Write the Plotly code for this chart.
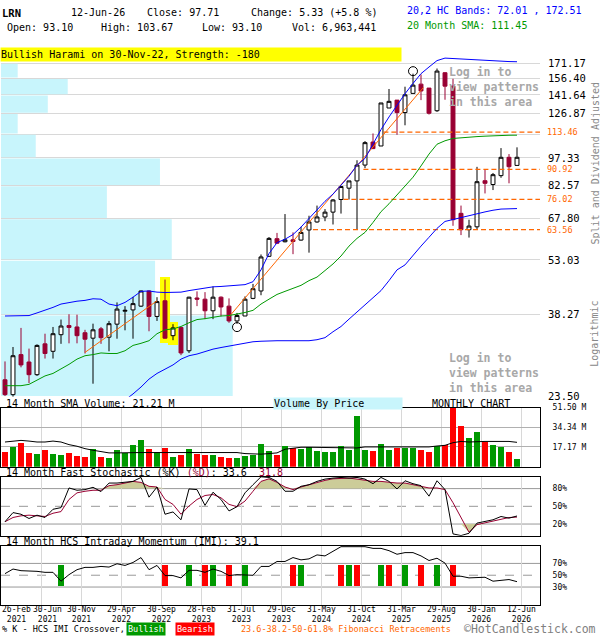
import math

import plotly.graph_objects as go

FONT = "DejaVu Sans Mono"
W, H = 600, 640
MAROON = "#990033"
UP_GREEN = "#009900"
DN_RED = "#ff0000"
ORANGE = "#ff6600"
CYAN = "#c8f5fc"
GRID = "#d8d8d8"

# monthly bars, Feb 2021 .. Jun 2026 (month index 0..64)
opens = [26.0, 23.8, 30.2, 28.9, 26.8, 32.2, 30.8, 34.0, 35.9, 35.6,
         34.4, 33.3, 35.2, 33.5, 36.2, 39.1, 39.4, 40.3, 44.1, 37.9,
         41.6, 33.8, 35.5, 30.9, 42.3, 42.0, 39.2, 42.5, 40.3, 36.9,
         38.0, 42.2, 44.1, 54.2, 60.2, 59.1, 59.8, 59.7, 63.4, 66.5,
         68.5, 70.5, 76.0, 81.3, 84.9, 93.3, 107.0, 104.5, 131.0, 137.3,
         127.5, 142.9, 151.0, 147.5, 128.9, 161.6, 149.2, 70.0, 63.5, 64.6,
         85.0, 83.1, 87.6, 97.7, 93.10]
highs = [29.0, 31.6, 35.4, 31.3, 32.1, 34.2, 35.6, 37.2, 38.4, 38.3,
         35.0, 36.3, 35.6, 36.9, 41.2, 40.3, 42.6, 44.2, 44.2, 42.5,
         47.2, 36.2, 35.6, 42.6, 44.0, 43.8, 45.3, 42.7, 42.2, 38.7,
         42.7, 46.0, 54.8, 60.8, 62.3, 69.7, 62.5, 64.6, 69.0, 73.3,
         71.8, 76.2, 82.1, 84.9, 96.0, 107.6, 112.6, 135.0, 146.7, 137.3,
         148.7, 160.7, 159.9, 147.5, 165.7, 162.0, 155.9, 73.3, 67.4, 92.3,
         90.6, 89.0, 103.2, 99.6, 103.67]
lows = [23.6, 23.5, 28.0, 25.5, 26.6, 29.5, 29.5, 32.2, 32.3, 32.3,
        30.4, 25.4, 32.2, 30.8, 33.2, 34.9, 33.2, 40.1, 34.7, 36.9,
        33.2, 32.9, 30.1, 30.5, 40.3, 37.3, 37.3, 37.9, 36.5, 36.3,
        38.0, 42.0, 43.0, 54.0, 58.3, 58.9, 54.9, 59.5, 55.4, 66.2,
        66.8, 65.5, 69.9, 76.0, 63.6, 91.6, 102.6, 104.5, 131.0, 111.7,
        118.2, 142.9, 137.3, 126.0, 128.0, 137.6, 65.0, 61.5, 60.6, 63.5,
        78.8, 80.4, 86.5, 83.7, 93.10]
closes = [23.8, 30.0, 28.4, 26.8, 31.9, 30.4, 34.2, 35.8, 35.5, 33.8,
          33.1, 35.0, 33.4, 36.3, 39.6, 39.3, 40.9, 44.1, 37.9, 41.4,
          33.3, 35.4, 30.5, 42.5, 42.0, 39.2, 42.5, 40.1, 36.9, 38.1,
          42.0, 44.7, 54.0, 60.3, 58.6, 59.8, 59.2, 62.5, 66.5, 68.5,
          70.5, 75.8, 82.1, 84.9, 93.3, 106.6, 102.9, 135.0, 136.3, 127.5,
          141.7, 150.1, 145.0, 127.0, 163.2, 149.2, 67.4, 63.5, 64.9, 84.5,
          83.7, 88.1, 97.7, 92.38, 97.71]

# volume in millions and its 14 month SMA
volumes = [12.87, 17.17, 20.6, 12.0, 11.16, 14.6, 11.16, 10.3, 12.0, 9.44,
           8.58, 15.45, 8.58, 7.72, 14.6, 12.0, 18.9, 24.0, 15.45, 12.87,
           16.3, 8.58, 10.3, 15.45, 11.16, 10.3, 10.3, 8.58, 7.72, 7.72,
           9.44, 10.3, 19.7, 13.7, 10.3, 18.0, 16.3, 15.45, 17.17, 13.7,
           12.87, 12.87, 18.0, 14.6, 44.6, 14.6, 13.7, 19.7, 14.6, 16.3,
           16.3, 16.3, 14.6, 12.87, 18.0, 18.9, 53.0, 36.0, 25.7, 30.9,
           21.5, 18.9, 17.17, 12.87, 6.96]
vol_sma = [21.5, 22.3, 22.9, 22.3, 21.5, 21.5, 22.3, 21.5, 19.2, 17.8,
           15.7, 14.3, 12.9, 12.0, 12.0, 12.3, 12.3, 12.3, 12.3, 12.3,
           12.6, 12.9, 12.9, 12.9, 12.9, 12.9, 12.9, 12.9, 12.9, 12.3,
           11.4, 10.9, 10.9, 11.4, 12.0, 15.2, 16.3, 16.9, 16.9, 16.9,
           16.9, 16.9, 16.9, 16.9, 16.3, 17.2, 17.2, 17.2, 17.2, 17.2,
           17.2, 17.2, 17.2, 17.2, 18.0, 18.6, 20.9, 22.0, 21.5, 22.0,
           22.0, 22.0, 22.0, 22.0, 21.21]

# fast stochastic
stoch_k = [23.9, 39.4, 36.6, 29.4, 35.0, 31.1, 45.0, 47.8, 81.1, 77.2,
           78.3, 82.2, 75.0, 89.4, 89.4, 90.5, 92.2, 98.9, 65.5, 82.7,
           36.6, 40.5, 27.2, 79.4, 78.3, 51.6, 73.9, 61.6, 42.2, 49.4,
           72.8, 86.6, 100.0, 98.9, 92.2, 75.5, 75.5, 83.9, 86.6, 92.2,
           96.1, 97.8, 98.9, 97.8, 98.9, 96.1, 88.3, 98.9, 92.2, 79.4,
           93.3, 88.3, 85.0, 67.2, 93.3, 78.3, 3.3, 0.5, 4.4, 21.6,
           23.9, 27.2, 32.8, 30.0, 33.6]
stoch_d = [23.9, 31.1, 33.9, 35.0, 33.9, 32.8, 38.3, 41.1, 61.6, 72.8,
           75.5, 77.2, 77.2, 85.0, 86.6, 89.4, 92.2, 90.5, 83.9, 82.7,
           61.6, 53.3, 36.6, 50.5, 61.6, 68.3, 70.0, 64.4, 53.3, 49.4,
           58.9, 75.5, 92.2, 96.6, 90.5, 82.7, 78.3, 82.7, 86.6, 89.4,
           93.9, 96.6, 97.8, 97.8, 96.1, 93.9, 92.2, 92.2, 90.5, 89.4,
           89.4, 86.6, 82.7, 81.1, 81.1, 78.3, 56.1, 30.0, 6.1, 19.0,
           22.0, 25.0, 28.5, 31.0, 31.8]

# intraday momentum
imi = [52.7, 60.5, 57.7, 57.7, 56.6, 54.9, 54.9, 39.9, 51.0, 59.4,
       63.3, 63.3, 64.9, 63.8, 69.4, 66.6, 71.6, 79.9, 59.4, 66.6,
       49.4, 49.4, 45.5, 58.3, 58.3, 54.9, 60.5, 56.6, 49.4, 51.0,
       51.0, 49.9, 64.9, 64.9, 73.3, 73.3, 79.9, 76.0, 77.7, 84.4,
       82.7, 89.9, 98.3, 98.3, 98.3, 98.3, 95.5, 95.5, 91.6, 85.5,
       88.3, 88.3, 82.7, 74.9, 78.8, 70.5, 48.3, 48.3, 45.5, 46.6,
       46.6, 39.9, 41.6, 42.7, 39.1]
bullish_months = [7, 23, 26, 30, 37, 43, 47, 50, 54]
bearish_months = [20, 25, 28, 36, 42, 44, 48, 52, 56]

# 20,2 HC bands and 20 month SMA
hc_upper = [38.0, 38.0, 38.0, 38.1, 38.7, 39.3, 40.0, 40.8, 41.2, 41.5,
            41.7, 42.1, 42.0, 40.8, 40.4, 41.2, 42.5, 44.0, 44.1, 43.8,
            43.7, 43.7, 43.8, 44.2, 44.5, 44.9, 45.2, 45.3, 45.5, 45.6,
            45.8, 46.6, 50.0, 55.1, 58.8, 60.0, 61.7, 64.5, 68.0, 71.5,
            75.2, 78.5, 82.8, 87.3, 93.2, 97.1, 105.7, 115.2, 124.2, 133.3,
            142.6, 151.6, 160.7, 167.2, 173.7, 176.3, 175.8, 175.2, 174.9, 174.4,
            174.0, 173.4, 172.9, 172.7, 172.51]
hc_lower = [None] * 14 + [
    22.2, 23.0, 23.9, 24.9, 26.1, 27.0, 27.7, 28.4, 29.4, 30.0,
    30.3, 30.8, 31.2, 31.5, 31.8, 32.1, 32.3, 32.6, 32.7, 32.8,
    32.8, 32.8, 32.8, 32.8, 32.8, 33.0, 33.4, 34.6, 35.7, 37.3,
    38.9, 40.5, 42.2, 44.2, 46.9, 50.0, 51.5, 54.6, 57.6, 60.7,
    64.0, 66.7, 67.5, 68.2, 69.1, 69.9, 70.6, 71.3, 71.8, 71.9,
    72.01]
sma20 = [25.1, 25.1, 25.1, 25.3, 26.0, 26.6, 27.0, 27.7, 28.5, 29.4,
         30.0, 30.2, 30.5, 30.4, 30.4, 30.9, 31.9, 32.3, 32.8, 34.2,
         35.0, 35.2, 35.7, 36.5, 37.2, 37.4, 37.7, 38.0, 38.1, 38.4,
         38.8, 39.3, 40.8, 42.0, 43.2, 44.0, 44.8, 45.6, 46.9, 47.9,
         49.8, 51.8, 54.3, 57.6, 60.3, 62.5, 66.3, 70.7, 74.1, 78.1,
         82.3, 86.8, 92.8, 99.6, 105.6, 107.8, 109.3, 109.8, 110.2, 110.5,
         110.8, 111.1, 111.3, 111.4, 111.45]

# price scale, volume by price (relative, per price band)
price_ticks = [23.50, 38.27, 53.03, 67.80, 82.57, 97.33, 112.10, 126.87, 141.64, 156.40, 171.17]
vbp_volume = [100, 66.5, 73.7, 45.7, 68.6, 15.0, 7.2, 20.2, 28.8, 7.2]

fib_levels = [63.56, 76.02, 90.92, 113.46]
fib_start = [38.5, 42.3, 44.8, 47.3]

trend_x = [[10, 19], [28, 52.3]]
trend_y = [[30.6, 41.6], [37.8, 148.0]]

highlight_months = [20, 21]
circle_below = [29]
circle_above = [51]
login_from = 54.5

label_months = [4, 9, 14, 19, 24, 29, 34, 39, 44, 49, 54, 59, 64]
date_labels = ["30-Jun<br>2021", "30-Nov<br>2021", "29-Apr<br>2022", "30-Sep<br>2022",
               "28-Feb<br>2023", "31-Jul<br>2023", "29-Dec<br>2023", "31-May<br>2024",
               "31-Oct<br>2024", "31-Mar<br>2025", "29-Aug<br>2025", "30-Jan<br>2026",
               "12-Jun<br>2026"]

n = len(closes)
months = list(range(n))
grid_x = [m + 0.5 for m in label_months]
X_RANGE = [-0.5, 66.875]
L = math.log10


def px(x):
    return (x - 1) / 539


def py(y):
    return 1 - y / H


# main panel geometry: 23.50 at 399px, 171.17 at 60px, axis goes a bit higher
y_lo, y_hi, y_top = price_ticks[0], price_ticks[-1], 178.0
scale = (399 - 60) / math.log(y_hi / y_lo)
main_top_px = 399 - scale * math.log(y_top / y_lo)

fig = go.Figure()

# volume by price: base subplot, so it sits under every price mark
for k, v in enumerate(vbp_volume):
    lo = price_ticks[k] * 1.004
    hi = price_ticks[k + 1] / 1.004
    fig.add_trace(go.Scatter(x=[0, v, v, 0], y=[lo, lo, hi, hi], fill="toself",
                             fillcolor=CYAN, mode="lines", line=dict(width=0),
                             xaxis="x", yaxis="y"))

# pattern highlight (bars are drawn under the candles)
fig.add_trace(go.Bar(x=highlight_months,
                     base=[lows[m] * 0.97 for m in highlight_months],
                     y=[highs[m] * 1.01 - lows[m] * 0.97 for m in highlight_months],
                     width=1.2, marker=dict(color="#ffff00", line=dict(width=0)),
                     xaxis="x2", yaxis="y"))

# fibonacci retracements
for lvl, s in zip(fib_levels, fib_start):
    fig.add_trace(go.Scatter(x=[s, X_RANGE[1]], y=[lvl, lvl], mode="lines",
                             line=dict(color=ORANGE, width=1.2, dash="5px,3px"),
                             xaxis="x2", yaxis="y"))

for tx, ty in zip(trend_x, trend_y):
    fig.add_trace(go.Scatter(x=tx, y=ty, mode="lines", line=dict(color=ORANGE, width=1),
                             xaxis="x2", yaxis="y"))

fig.add_trace(go.Scatter(x=months, y=sma20, mode="lines", line=dict(color="#009900", width=1),
                         xaxis="x2", yaxis="y"))
fig.add_trace(go.Scatter(x=months, y=hc_upper, mode="lines", line=dict(color="#0000ff", width=1),
                         xaxis="x2", yaxis="y"))
fig.add_trace(go.Scatter(x=months, y=hc_lower, mode="lines", line=dict(color="#0000ff", width=1),
                         xaxis="x2", yaxis="y"))

fig.add_trace(go.Candlestick(
    x=months, open=opens, high=highs, low=lows, close=closes,
    increasing=dict(line=dict(color="black", width=1), fillcolor="white"),
    decreasing=dict(line=dict(color=MAROON, width=1), fillcolor=MAROON),
    whiskerwidth=0, xaxis="x2", yaxis="y"))

fig.add_trace(go.Scatter(
    x=circle_below + circle_above,
    y=[lows[m] * 0.98 for m in circle_below] + [highs[m] * 1.015 for m in circle_above],
    mode="markers", marker=dict(symbol="circle-open", size=9, color="black", line=dict(width=1)),
    xaxis="x2", yaxis="y"))

# volume panel
vol_colors = [UP_GREEN if c >= o else DN_RED for o, c in zip(opens, closes)]
fig.add_trace(go.Bar(x=months, y=volumes, marker=dict(color=vol_colors, line=dict(width=0)),
                     width=0.7, xaxis="x3", yaxis="y3"))
fig.add_trace(go.Scatter(x=months, y=vol_sma, mode="lines", line=dict(color="black", width=1),
                         xaxis="x3", yaxis="y3"))

# stochastic panel
fig.add_trace(go.Scatter(x=months, y=[80] * n, mode="lines", line=dict(width=0),
                         xaxis="x4", yaxis="y4"))
fig.add_trace(go.Scatter(x=months, y=[max(d, 80) for d in stoch_d], mode="lines",
                         line=dict(width=0), fill="tonexty", fillcolor="#cccc99",
                         xaxis="x4", yaxis="y4"))
fig.add_trace(go.Scatter(x=months, y=[20] * n, mode="lines", line=dict(width=0),
                         xaxis="x4", yaxis="y4"))
fig.add_trace(go.Scatter(x=months, y=[min(d, 20) for d in stoch_d], mode="lines",
                         line=dict(width=0), fill="tonexty", fillcolor="#cccc99",
                         xaxis="x4", yaxis="y4"))
fig.add_trace(go.Scatter(x=months, y=stoch_d, mode="lines", line=dict(color=MAROON, width=1),
                         xaxis="x4", yaxis="y4"))
fig.add_trace(go.Scatter(x=months, y=stoch_k, mode="lines", line=dict(color="black", width=1),
                         xaxis="x4", yaxis="y4"))

# IMI panel with crossover markers
fig.add_trace(go.Bar(x=bullish_months, y=[35] * len(bullish_months), base=33, width=0.7,
                     marker=dict(color=UP_GREEN, line=dict(width=0)), xaxis="x5", yaxis="y5"))
fig.add_trace(go.Bar(x=bearish_months, y=[35] * len(bearish_months), base=33, width=0.7,
                     marker=dict(color=DN_RED, line=dict(width=0)), xaxis="x5", yaxis="y5"))
fig.add_trace(go.Scatter(x=months, y=imi, mode="lines", line=dict(color="black", width=1),
                         xaxis="x5", yaxis="y5"))

# shapes: shaded "log in" area and vertical grid under everything
shapes = [dict(type="rect", xref="x2", yref="y", x0=login_from, x1=X_RANGE[1],
               y0=L(y_lo), y1=L(y_hi), fillcolor="#f2f2f2", line=dict(width=0), layer="below")]
for g in grid_x:
    shapes.append(dict(type="line", xref="x2", yref="y", x0=g, x1=g, y0=L(y_lo), y1=L(y_hi),
                       line=dict(color=GRID, width=1), layer="below"))
shapes.append(dict(type="line", xref="x2", yref="y", x0=login_from, x1=login_from,
                   y0=L(y_lo), y1=L(y_hi), line=dict(color="#999999", width=2), layer="above"))
shapes.append(dict(type="rect", xref="paper", yref="y", x0=0, x1=1, y0=L(y_lo), y1=L(y_hi),
                   line=dict(color="black", width=1), layer="above"))
for yr, levels in (("y4", [20, 50, 80]), ("y5", [30, 50, 70])):
    for lv in levels:
        shapes.append(dict(type="line", xref="paper", yref=yr, x0=0, x1=1, y0=lv, y1=lv,
                           line=dict(color="#999999", width=1, dash="dash" if lv == 50 else "solid"),
                           layer="below"))

# text
anns = []


def ann(text, x, y, size=10, color="black", **kw):
    d = dict(text=text, x=px(x), y=py(y), xref="paper", yref="paper", showarrow=False,
             xanchor="left", yanchor="middle", font=dict(family=FONT, size=size, color=color))
    d.update(kw)
    anns.append(d)


ann("<b>LRN</b>", 0, 9, 10.5)
ann("12-Jun-26", 69, 9)
ann("Close: %.2f" % closes[-1], 145, 9)
ann("Change: 5.33 (+5.8 %)", 249, 9)
ann("Open: %.2f" % opens[-1], 4.5, 24)
ann("High: %.2f" % highs[-1], 99, 24)
ann("Low: %.2f" % lows[-1], 200, 24)
ann("Vol: 6,963,441", 290, 24)
ann("20,2 HC Bands: %.2f , %.2f" % (hc_lower[-1], hc_upper[-1]), 405, 7, color="#0000ff")
ann("20 Month SMA: %.2f" % sma20[-1], 405, 22, color="#009900")
ann("Bullish Harami on 30-Nov-22, Strength: -180", 0, 51, bgcolor="#ffff00",
    width=400, height=13, align="left", borderpad=0)

ann("14 Month SMA Volume: %.2f M" % vol_sma[-1], 4, 405.5)
ann("Volume By Price", 273, 405.5, bgcolor=CYAN, width=128, height=11, align="left", borderpad=0)
ann("MONTHLY CHART", 430, 405.5)
ann("14 Month Fast Stochastic (%K) <span style='color:#990033'>(%D)</span>: 33.6\u00a0\u00a0"
    "<span style='color:#990033'>31.8</span>", 4, 476)
ann("14 Month HCS Intraday Momentum (IMI): %.1f" % imi[-1], 4, 546)

for top in (59.5, 350.5):
    ann("<b>Log in to<br>view patterns<br>in this area</b>", 446.5, top, 11.5, "#a8a8a8",
        yanchor="top", align="left")

ann("Split and Dividend Adjusted", 595, 161, 10, "#888888", textangle=-90, xanchor="center")
ann("Logarithmic", 595, 335, 10, "#888888", textangle=-90, xanchor="center")

for lvl in fib_levels:
    anns.append(dict(text="%.2f" % lvl, x=px(545), y=L(lvl), xref="paper", yref="y",
                     showarrow=False, xanchor="left", yanchor="middle",
                     font=dict(family=FONT, size=8.5, color=ORANGE)))

ann("26-Feb<br>2021", 0, 609, 8, yanchor="top", align="center")
for i, (g, lab) in enumerate(zip(grid_x, date_labels)):
    anns.append(dict(text=lab, x=g, y=py(609), xref="x5", yref="paper", showarrow=False,
                     xanchor="center", yanchor="top", xshift=6 if i == 0 else 0,
                     font=dict(family=FONT, size=8, color="black")))

ann("% K - HCS IMI Crossover,", 0, 634.5, 8.5)
ann("Bullish", 126, 634.5, 8.5, "white", bgcolor=UP_GREEN, borderpad=1)
ann("Bearish", 175, 634.5, 8.5, "white", bgcolor=DN_RED, borderpad=1)
ann("23.6-38.2-50-61.8% Fibonacci Retracements", 239, 634.5, 8.5, ORANGE)
ann("\u00a9HotCandlestick.com", 462, 634.5, 11.5, "#808080")

panel_x = dict(range=X_RANGE, tickvals=grid_x, showticklabels=False, ticks="", showgrid=True,
               gridcolor=GRID, zeroline=False, showline=True, mirror=True, linecolor="black",
               linewidth=1)
panel_y = dict(side="right", showline=True, mirror=True, linecolor="black", linewidth=1,
               zeroline=False, ticks="", ticklabelstandoff=10,
               tickfont=dict(family=FONT, size=8, color="black"))

fig.update_layout(
    width=W, height=H, margin=dict(l=1, r=60, t=0, b=0),
    paper_bgcolor="white", plot_bgcolor="white", showlegend=False, hovermode=False,
    bargap=0, barmode="overlay",
    xaxis=dict(domain=[0, 1], range=[0, 100 * 539 / 231.7], visible=False, anchor="y"),
    yaxis=dict(domain=[py(399), py(main_top_px)], type="log", range=[L(y_lo), L(y_top)],
               side="right", tickvals=price_ticks,
               ticktext=["%.2f" % t if t != 112.10 else "" for t in price_ticks],
               showgrid=True, gridcolor=GRID, zeroline=False, showline=False, ticks="",
               ticklabelstandoff=7, tickfont=dict(family=FONT, size=10.5, color="black")),
    xaxis2=dict(overlaying="x", anchor="y", range=X_RANGE, visible=False,
                rangeslider=dict(visible=False)),
    xaxis3=dict(anchor="y3", **panel_x),
    yaxis3=dict(domain=[py(470), py(410)], anchor="x3", range=[0, 51.5],
                tickvals=[17.17, 34.34, 51.50], ticktext=["17.17 M", "34.34 M", "51.50 M"],
                showgrid=True, gridcolor="#b0b0b0", **panel_y),
    xaxis4=dict(anchor="y4", **panel_x),
    yaxis4=dict(domain=[py(540.3), py(480.3)], anchor="x4", range=[0, 100],
                tickvals=[20, 50, 80], ticktext=["20%", "50%", "80%"], showgrid=False, **panel_y),
    xaxis5=dict(anchor="y5", **panel_x),
    yaxis5=dict(domain=[py(610.3), py(550.3)], anchor="x5", range=[0, 100],
                tickvals=[30, 50, 70], ticktext=["30%", "50%", "70%"], showgrid=False, **panel_y),
    shapes=shapes,
    annotations=anns,
)

fig.write_html("out.html", config={"displayModeBar": False},
               post_script="document.body.style.margin='0px';")
